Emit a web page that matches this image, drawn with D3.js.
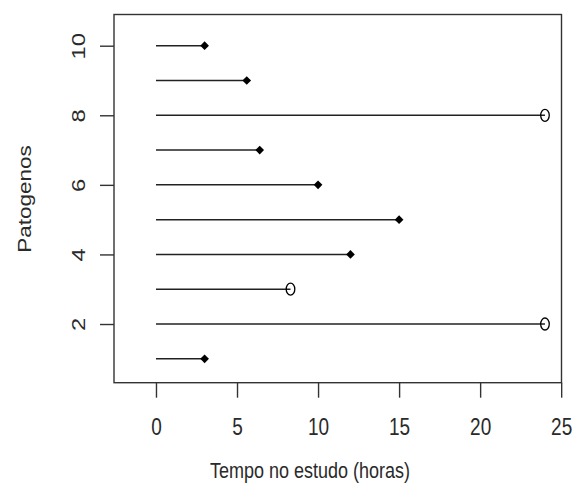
<!DOCTYPE html>
<html>
<head>
<meta charset="utf-8">
<script src="https://cdn.jsdelivr.net/npm/d3@7"></script>
<style>
  html, body { margin: 0; padding: 0; background: #fff; }
  svg { display: block; }
  text { font-family: "Liberation Sans", Arial, sans-serif; fill: #2a2a2a; }
</style>
</head>
<body>
<svg id="chart" width="574" height="493"></svg>
<script>
// Follow-up time per pathogen; evento = 1 observed event (filled diamond), 0 censored (open circle)
const patogenos = [1, 2, 3, 4, 5, 6, 7, 8, 9, 10];
const tempo     = [3, 24, 8.3, 12, 15, 10, 6.4, 24, 5.6, 3];
const evento    = [1, 0, 0, 1, 1, 1, 1, 0, 1, 1];
const xTicks = [0, 5, 10, 15, 20, 25];
const yTicks = [2, 4, 6, 8, 10];
const xLabel = "Tempo no estudo (horas)";
const yLabel = "Patogenos";

const box = { left: 114, right: 561.5, top: 14.5, bottom: 382.7 };
const stretch = 1.25;    // vertical stretch applied to text
const fontSize = 18;
const tickFont = 19;
const ink = "#222";

const svg = d3.select("#chart");

const x = d3.scaleLinear().domain([-2.59, 25.02]).range([box.left, box.right]);
const y = d3.scaleLinear().domain([0.313, 10.897]).range([box.bottom, box.top]);

// plot frame
svg.append("rect")
  .attr("x", box.left).attr("y", box.top)
  .attr("width", box.right - box.left).attr("height", box.bottom - box.top)
  .attr("fill", "none").attr("stroke", "#333").attr("stroke-width", 1.4);

// bottom axis
const xAxis = d3.axisBottom(x).tickValues(xTicks).tickSize(15).tickPadding(0).tickFormat(d3.format("d"));
const gx = svg.append("g").attr("transform", `translate(0,${box.bottom})`).call(xAxis);
gx.select(".domain").remove();
gx.selectAll(".tick line").attr("stroke", "#333").attr("stroke-width", 1.4);
gx.selectAll(".tick text").remove();
gx.selectAll(".tick").append("text")
  .attr("text-anchor", "middle")
  .attr("transform", `translate(0,52) scale(1,${stretch})`)
  .style("font-size", tickFont + "px")
  .text(d => d);

// left axis
const yAxis = d3.axisLeft(y).tickValues(yTicks).tickSize(14).tickPadding(0);
const gy = svg.append("g").attr("transform", `translate(${box.left},0)`).call(yAxis);
gy.select(".domain").remove();
gy.selectAll(".tick line").attr("stroke", "#333").attr("stroke-width", 1.4);
gy.selectAll(".tick text").remove();
gy.selectAll(".tick").append("text")
  .attr("text-anchor", "middle")
  .attr("transform", `translate(-29,0) scale(1,${stretch}) rotate(-90)`)
  .style("font-size", tickFont + "px")
  .text(d => d);

// axis titles
svg.append("text")
  .attr("text-anchor", "middle")
  .attr("transform", `translate(310,478) scale(1,${stretch})`)
  .style("font-size", fontSize + "px")
  .text(xLabel);

svg.append("text")
  .attr("text-anchor", "middle")
  .attr("transform", `translate(31,199) scale(1,${stretch}) rotate(-90)`)
  .style("font-size", fontSize + "px")
  .text(yLabel);

// segments from 0 to follow-up time
const rows = patogenos.map((p, i) => ({ p, t: tempo[i], ev: evento[i] }));

svg.append("g").selectAll("line")
  .data(rows).join("line")
  .attr("x1", x(0)).attr("x2", d => x(d.t))
  .attr("y1", d => y(d.p)).attr("y2", d => y(d.p))
  .attr("stroke", ink).attr("stroke-width", 1.5);

// observed events: filled diamonds
const diamond = d3.symbol().type(d3.symbolDiamond2).size(48);
svg.append("g").selectAll("path")
  .data(rows.filter(d => d.ev === 1)).join("path")
  .attr("d", diamond)
  .attr("transform", d => `translate(${x(d.t)},${y(d.p)})`)
  .attr("fill", "#000");

// censored: open circles
svg.append("g").selectAll("ellipse")
  .data(rows.filter(d => d.ev === 0)).join("ellipse")
  .attr("cx", d => x(d.t)).attr("cy", d => y(d.p))
  .attr("rx", 4.3).attr("ry", 6)
  .attr("fill", "none").attr("stroke", "#000").attr("stroke-width", 1.3);
</script>
</body>
</html>
